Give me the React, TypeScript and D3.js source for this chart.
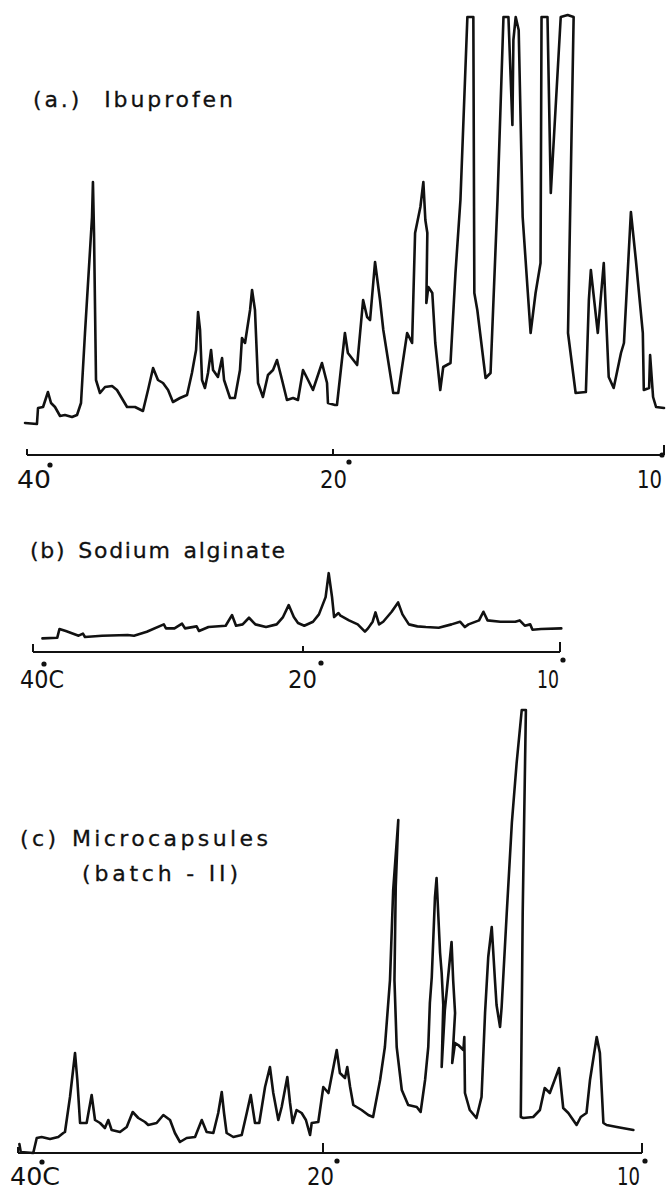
import React from "react";
import * as d3 from "d3";

// ---------- data (2θ in degrees, intensity in arbitrary units) ----------
const ibuprofenTheta = [40.13,39.35,39.28,38.95,38.63,38.43,38.17,37.84,37.52,37.06,36.73,36.47,36.21,35.88,35.75,35.69,35.62,35.49,35.23,34.90,34.44,34.12,33.46,32.94,32.42,32.09,31.76,31.44,31.11,30.78,30.46,30.00,29.54,29.22,28.95,28.82,28.69,28.56,28.37,28.17,27.97,27.84,27.52,27.25,27.12,26.73,26.41,26.08,25.95,25.75,25.42,25.29,25.10,24.90,24.58,24.25,23.92,23.66,23.33,23.01,22.61,22.29,21.96,21.63,21.31,20.72,20.39,20.33,19.94,19.88,19.64,19.55,19.27,19.09,18.97,18.88,18.73,18.58,18.48,18.18,18.03,17.76,17.61,17.52,17.36,17.27,17.21,17.15,17.18,17.12,17.00,16.91,16.76,16.67,16.45,16.30,16.15,15.94,15.76,15.73,15.64,15.39,15.24,15.03,14.85,14.70,14.58,14.55,14.48,14.39,14.27,14.12,14.03,13.88,13.73,13.70,13.52,13.42,13.12,12.91,12.73,12.90,12.67,12.36,12.27,12.21,12.00,11.82,11.67,11.52,11.30,11.21,11.00,10.85,10.64,10.61,10.45,10.42,10.33,10.24,10.00];
const ibuprofenIntensity = [9,8,24,25,40,29,25,16,17,15,17,29,99,182,215,250,199,52,39,45,46,42,25,25,21,42,64,52,49,42,30,34,37,59,82,120,102,52,44,59,82,62,55,74,52,34,34,62,94,89,122,142,122,49,35,57,62,72,52,32,34,32,62,52,42,69,49,29,27,27,99,79,67,132,115,112,170,132,102,39,39,99,89,199,225,250,212,199,129,145,139,89,42,65,69,159,232,415,415,139,122,54,59,232,415,415,307,392,415,402,215,142,99,139,169,415,415,239,415,417,415,99,39,40,132,162,99,169,55,44,79,89,220,172,99,42,44,77,35,25,24];

const alginateTheta = [39.30,38.20,38.04,37.57,36.62,36.30,36.15,34.89,32.99,32.52,31.57,30.31,30.15,29.52,28.96,28.74,27.88,27.70,27.00,25.73,25.26,24.96,24.47,24.00,23.53,22.74,21.95,21.48,21.06,20.68,20.37,19.95,19.61,19.38,19.12,19.00,18.87,18.79,18.62,18.54,18.21,17.87,17.59,17.47,17.29,17.18,17.04,16.88,16.55,16.30,16.13,15.88,15.55,15.22,14.72,14.22,13.89,13.70,13.56,13.15,12.98,12.82,12.32,11.74,11.57,11.37,11.16,11.07,10.74,9.95];
const alginateIntensity = [7,8,21,18,11,14,9,11,12,11,17,28,22,22,29,22,25,18,24,26,42,26,28,38,28,24,28,39,57,39,30,26,32,43,69,105,69,39,45,41,34,28,17,22,32,46,28,32,47,61,43,28,25,24,23,28,32,24,28,34,47,34,32,32,34,26,28,20,21,22];

const microTheta = [39.91,39.82,39.00,38.77,38.45,37.90,37.36,37.03,36.92,36.59,36.26,36.11,35.93,35.50,35.17,34.95,34.62,34.30,34.08,33.86,33.31,32.87,32.48,32.11,31.67,31.46,30.91,30.47,30.03,29.71,29.38,28.94,28.39,27.95,27.63,27.19,26.87,26.64,26.49,26.32,25.88,25.33,25.00,24.74,24.46,24.18,23.80,23.48,23.26,22.93,22.71,22.34,22.16,21.99,21.73,21.40,21.12,20.85,20.74,20.31,19.99,19.83,19.57,19.47,19.31,19.24,19.15,19.05,18.79,18.58,18.43,18.21,18.06,17.90,17.80,17.64,17.72,17.76,17.69,17.53,17.33,17.06,16.94,16.80,16.70,16.65,16.59,16.49,16.44,16.33,16.28,16.23,16.28,16.18,15.97,15.92,15.86,15.95,15.86,15.76,15.60,15.57,15.55,15.40,15.19,15.03,14.92,14.82,14.71,14.61,14.56,14.45,14.40,14.24,14.08,13.93,13.77,13.64,13.74,13.80,13.72,13.41,13.20,13.05,12.89,12.60,12.47,12.31,12.05,11.92,11.74,11.63,11.42,11.32,11.21,11.11,10.79,10.27];
const microIntensity = [16,8,7,22,23,21,23,27,28,63,107,80,37,37,65,40,37,32,40,30,28,33,48,42,38,35,37,45,40,27,18,22,23,40,28,27,47,68,47,27,23,25,47,65,37,37,73,93,67,40,53,83,57,37,50,47,40,25,37,38,73,67,110,87,82,93,73,55,50,45,43,80,113,180,270,340,273,180,113,70,55,53,48,80,113,157,183,263,282,207,187,155,93,150,218,180,147,97,117,115,110,123,67,50,42,63,147,203,233,180,155,133,153,247,337,397,450,450,247,43,42,43,50,72,67,92,52,47,35,43,47,80,123,107,37,35,33,30];

const tickValues = [40, 20, 10];
const tickLabelsA = ["40", "20", "10"];
const tickLabelsB = ["40C", "20", "10"];
const tickLabelsC = ["40C", "20", "10"];
const titleA = ["(a.) Ibuprofen"];
const titleB = ["(b) Sodium alginate"];
const titleC = ["(c) Microcapsules", "(batch - II)"];

// ---------- layout ----------
const W = 667;
const H = 1190;
const FONT = "'DejaVu Sans', 'Liberation Sans', sans-serif";

type Panel = {
  theta: number[];
  intensity: number[];
  xRange: number[];
  yDomain: number[];
  yRange: number[];
  axisY: number;
  tickLen: number[];
  labels: string[];
  labelDx: number[];
  labelW: number[];
  labelDy: number;
  dotDx: number[];
  dotDy: number[];
  titles: string[];
  titleX: number[];
  titleY: number[];
  titleW: number[];
  wordSpacing: number[];
};

const panels: Panel[] = [
  {
    theta: ibuprofenTheta,
    intensity: ibuprofenIntensity,
    xRange: [27, 333, 664],
    yDomain: [0, 400],
    yRange: [432, 32],
    axisY: 455,
    tickLen: [6, 6, 10],
    labels: tickLabelsA,
    labelDx: [-10, -13, -27],
    labelW: [34, 27, 25],
    labelDy: 33,
    dotDx: [23, 16, -2],
    dotDy: [10, 7, 0],
    titles: titleA,
    titleX: [33],
    titleY: [107],
    titleW: [200],
    wordSpacing: [12],
  },
  {
    theta: alginateTheta,
    intensity: alginateIntensity,
    xRange: [33, 303, 560],
    yDomain: [0, 100],
    yRange: [643, 576.5],
    axisY: 652,
    tickLen: [8, 6, 10],
    labels: tickLabelsB,
    labelDx: [-13, -15, -23],
    labelW: [44, 29, 22],
    labelDy: 36,
    dotDx: [11, 18, 3],
    dotDy: [12, 11, 8],
    titles: titleB,
    titleX: [30],
    titleY: [558],
    titleW: [255],
    wordSpacing: [3],
  },
  {
    theta: microTheta,
    intensity: microIntensity,
    xRange: [18, 323, 642],
    yDomain: [0, 400],
    yRange: [1160, 760],
    axisY: 1153,
    tickLen: [6, 10, 10],
    labels: tickLabelsC,
    labelDx: [-8, -16, -25],
    labelW: [50, 27, 23],
    labelDy: 32,
    dotDx: [24, 14, 3],
    dotDy: [9, 8, 8],
    titles: titleC,
    titleX: [20, 82],
    titleY: [846, 881],
    titleW: [248, 156],
    wordSpacing: [2, 0],
  },
];

function PanelView({ p }: { p: Panel }) {
  const x = d3.scaleLinear().domain(tickValues).range(p.xRange);
  const y = d3.scaleLinear().domain(p.yDomain).range(p.yRange);
  const pts = p.theta.map((t, i) => [t, p.intensity[i]] as [number, number]);
  const line = d3
    .line<[number, number]>()
    .x((d) => x(d[0]))
    .y((d) => y(d[1]))
    .curve(d3.curveLinear);
  const x0 = x(tickValues[0]);
  const x1 = x(tickValues[tickValues.length - 1]);
  return (
    <g>
      {p.titles.map((t, i) => (
        <text
          key={t}
          x={p.titleX[i]}
          y={p.titleY[i]}
          fontFamily={FONT}
          fontSize={22}
          wordSpacing={p.wordSpacing[i]}
          textLength={p.titleW[i]}
          lengthAdjust="spacing"
          fill="#111"
          stroke="#111"
          strokeWidth={0.3}
        >
          {t}
        </text>
      ))}
      <path
        d={line(pts) || ""}
        fill="none"
        stroke="#111"
        strokeWidth={2.6}
        strokeLinejoin="round"
        strokeLinecap="round"
      />
      <line x1={x0} x2={x1} y1={p.axisY} y2={p.axisY} stroke="#111" strokeWidth={2} />
      {tickValues.map((v, i) => (
        <line
          key={"t" + v}
          x1={x(v)}
          x2={x(v)}
          y1={p.axisY}
          y2={p.axisY - p.tickLen[i]}
          stroke="#111"
          strokeWidth={2}
        />
      ))}
      {tickValues.map((v, i) => (
        <g key={"l" + v}>
          <text
            x={x(v) + p.labelDx[i]}
            y={p.axisY + p.labelDy}
            fontFamily={FONT}
            fontSize={24}
            textLength={p.labelW[i]}
            lengthAdjust="spacingAndGlyphs"
            fill="#111"
          >
            {p.labels[i]}
          </text>
          <circle cx={x(v) + p.dotDx[i]} cy={p.axisY + p.dotDy[i]} r={2.6} fill="#111" />
        </g>
      ))}
    </g>
  );
}

export default function App() {
  return (
    <svg
      width={W}
      height={H}
      viewBox={`0 0 ${W} ${H}`}
      style={{ position: "absolute", left: 0, top: 0, background: "#fff" }}
    >
      <rect width={W} height={H} fill="#fff" />
      {panels.map((p, i) => (
        <PanelView key={i} p={p} />
      ))}
    </svg>
  );
}
